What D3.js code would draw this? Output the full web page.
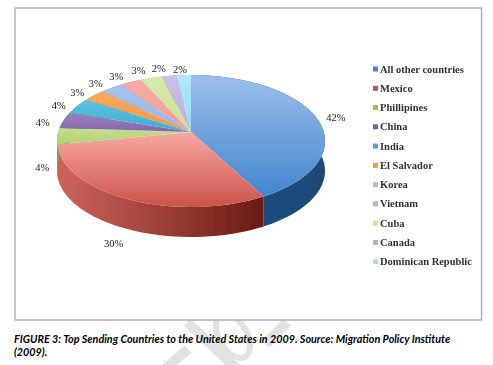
<!DOCTYPE html>
<html>
<head>
<meta charset="utf-8">
<script src="https://cdn.jsdelivr.net/npm/d3@7"></script>
<style>
  html, body { margin: 0; padding: 0; background: #fff; }
  svg { display: block; }
</style>
</head>
<body>
<div id="chart"></div>
<script>
// data
var countries = ["All other countries", "Mexico", "Phillipines", "China", "India", "El Salvador",
    "Korea", "Vietnam", "Cuba", "Canada", "Dominican Republic"];
var shares = [42, 30, 4, 4, 4, 3, 3, 3, 3, 2, 2];

// palette, same order as countries
var legendColors = ["#4f81bd", "#c0504d", "#9bbb59", "#8064a2", "#4bacc6", "#f79646",
    "#a9bde0", "#e0aaa8", "#cfe0a8", "#b9aed4", "#a9dcea"];
var faceLight = ["#9cbfec", "#f7a8a2", "#c6de8e", "#9a80c0", "#5cc4e0", "#fbab5c",
    "#a6c4f0", "#f7aca6", "#d8eaa8", "#ccc0e8", "#aeeafa"];
var faceDark = ["#4386cc", "#cc5249", "#b2d070", "#8566ac", "#40acd0", "#f5953e",
    "#92b4e4", "#f09a94", "#cadf96", "#bcaedc", "#98dcf0"];
var wallLeft = ["#1f4f85", "#d0645c", "#86a04a", "#6a4f8a", "#38879e", "#c87530",
    "#7b92b0", "#b07a78", "#9fb078", "#8f82a8", "#7cabb8"];
var wallRight = ["#1c4a7a", "#6a1b15", "#86a04a", "#6a4f8a", "#38879e", "#c87530",
    "#7b92b0", "#b07a78", "#9fb078", "#8f82a8", "#7cabb8"];

var width = 493, height = 365;

// tilted disc: perspective factor, half sizes and apex of the pie
var persp = 0.136, rx = 132.8, ry = 64.8, depth = 30;
var apexX = 191, apexY = 132;

var x = d3.scaleLinear().domain([-1, 1]).range([apexX - rx, apexX + rx]);
var y = d3.scaleLinear().domain([-1, 1]).range([apexY - ry, apexY + ry]);

// angle (0 = top, clockwise) and radius to screen position
function project(angle, r) {
    var u = Math.sin(angle) * r, v = -Math.cos(angle) * r;
    var w = 1 - persp * v;
    return [x(u / w), y(v / w)];
}

var pie = d3.pie().sort(null).value(function (d) { return d; });
var slices = pie(shares);

function rim(d) {
    var step = (d.endAngle - d.startAngle) / 40;
    return d3.range(41).map(function (i) { return d.startAngle + i * step; });
}

var line = d3.line();

var svg = d3.select("#chart")
    .append("svg")
    .attr("width", width)
    .attr("height", height);

var defs = svg.append("defs");

defs.append("filter").attr("id", "soft").append("feGaussianBlur").attr("stdDeviation", 0.45);
defs.append("filter").attr("id", "softText").append("feGaussianBlur").attr("stdDeviation", 0.25);

slices.forEach(function (d, i) {
    var face = defs.append("linearGradient").attr("id", "face" + i)
        .attr("x1", 0).attr("y1", 0).attr("x2", 0).attr("y2", 1);
    face.append("stop").attr("offset", 0).attr("stop-color", faceLight[i]);
    face.append("stop").attr("offset", 1).attr("stop-color", faceDark[i]);

    var wall = defs.append("linearGradient").attr("id", "wall" + i)
        .attr("x1", 0).attr("y1", 0).attr("x2", 1).attr("y2", 0);
    wall.append("stop").attr("offset", 0).attr("stop-color", wallLeft[i]);
    wall.append("stop").attr("offset", 1).attr("stop-color", wallRight[i]);
});

// watermark pieces behind the caption
var watermark = [
    [[187, 322], [236, 368]],
    [[287, 322], [266, 344]],
    [[166, 368], [188, 349]]
];
svg.append("g").selectAll("path")
    .data(watermark)
    .enter().append("path")
    .attr("d", line)
    .attr("fill", "none")
    .attr("stroke", "#e2e2e2")
    .attr("stroke-width", 10);
svg.append("ellipse")
    .attr("cx", 233).attr("cy", 336).attr("rx", 14).attr("ry", 24)
    .attr("transform", "rotate(-30 233 336)")
    .attr("fill", "none").attr("stroke", "#e2e2e2").attr("stroke-width", 6);

// frame
svg.append("rect")
    .attr("x", 15).attr("y", 8)
    .attr("width", 466.5).attr("height", 312)
    .attr("fill", "#fff")
    .attr("stroke", "#a8a8a8")
    .attr("stroke-width", 1.3);

var pieG = svg.append("g").attr("filter", "url(#soft)");

// side wall first, the faces paint over the part at the back
pieG.selectAll("path.wall")
    .data(slices)
    .enter().append("path")
    .attr("class", "wall")
    .attr("d", function (d) {
        var top = rim(d).map(function (a) { return project(a, 1); });
        var bottom = top.map(function (p) { return [p[0], p[1] + depth]; }).reverse();
        return line(top.concat(bottom)) + "Z";
    })
    .attr("fill", function (d, i) { return "url(#wall" + i + ")"; });

pieG.selectAll("path.face")
    .data(slices)
    .enter().append("path")
    .attr("class", "face")
    .attr("d", function (d) {
        var pts = rim(d).map(function (a) { return project(a, 1); });
        return line([[apexX, apexY]].concat(pts)) + "Z";
    })
    .attr("fill", function (d, i) { return "url(#face" + i + ")"; });

// percent labels, pushed below the wall on the front half
var textG = svg.append("g").attr("filter", "url(#softText)");

textG.selectAll("text.pct")
    .data(slices)
    .enter().append("text")
    .attr("class", "pct")
    .attr("text-anchor", "middle")
    .attr("font-family", "Liberation Serif")
    .attr("font-size", 10.5)
    .attr("fill", "#222")
    .attr("transform", function (d) {
        var mid = (d.startAngle + d.endAngle) / 2;
        var p = project(mid, 1.17);
        var front = Math.cos(mid) < 0;
        var dy = front ? depth + 1 : 4;
        // labels along the back left fan out a little more
        var gap = 2 * Math.PI - mid;
        var fan = gap < Math.PI ? Math.pow(Math.max(0, Math.cos(mid)), 3) * Math.min(1, gap / 0.2) : 0;
        // the label at the far left sits closer in
        var pull = front ? 8 * Math.pow(Math.sin(mid), 8) * (Math.sin(mid) < 0 ? 1 : 0) : 0;
        return "translate(" + (p[0] - 8 * fan + pull) + "," + (p[1] + dy + 3.5 - 4 * fan) + ")";
    })
    .text(function (d) { return d.value + "%"; });

// legend
var legendY = d3.scalePoint().domain(countries).range([69, 261.7]);

var legend = textG.selectAll("g.legend")
    .data(countries)
    .enter().append("g")
    .attr("class", "legend")
    .attr("transform", function (d) { return "translate(373," + legendY(d) + ")"; });

legend.append("rect")
    .attr("x", 0).attr("y", -2.5)
    .attr("width", 5).attr("height", 5)
    .attr("fill", function (d, i) { return legendColors[i]; });

legend.append("text")
    .attr("x", 7)
    .attr("y", 3.5)
    .attr("font-family", "Liberation Serif")
    .attr("font-weight", "bold")
    .attr("font-size", 10.5)
    .attr("fill", "#333")
    .text(function (d) { return d; });

// caption
var caption = ["FIGURE 3: Top Sending Countries to the United States in 2009. Source: Migration Policy Institute", "(2009)."];
svg.selectAll("text.caption")
    .data(caption)
    .enter().append("text")
    .attr("class", "caption")
    .attr("x", 14)
    .attr("y", function (d, i) { return 342.5 + i * 13.3; })
    .attr("font-family", "Lato")
    .attr("font-weight", "bold")
    .attr("font-style", "italic")
    .attr("font-size", 10.77)
    .attr("fill", "#000")
    .text(function (d) { return d; });
</script>
</body>
</html>
